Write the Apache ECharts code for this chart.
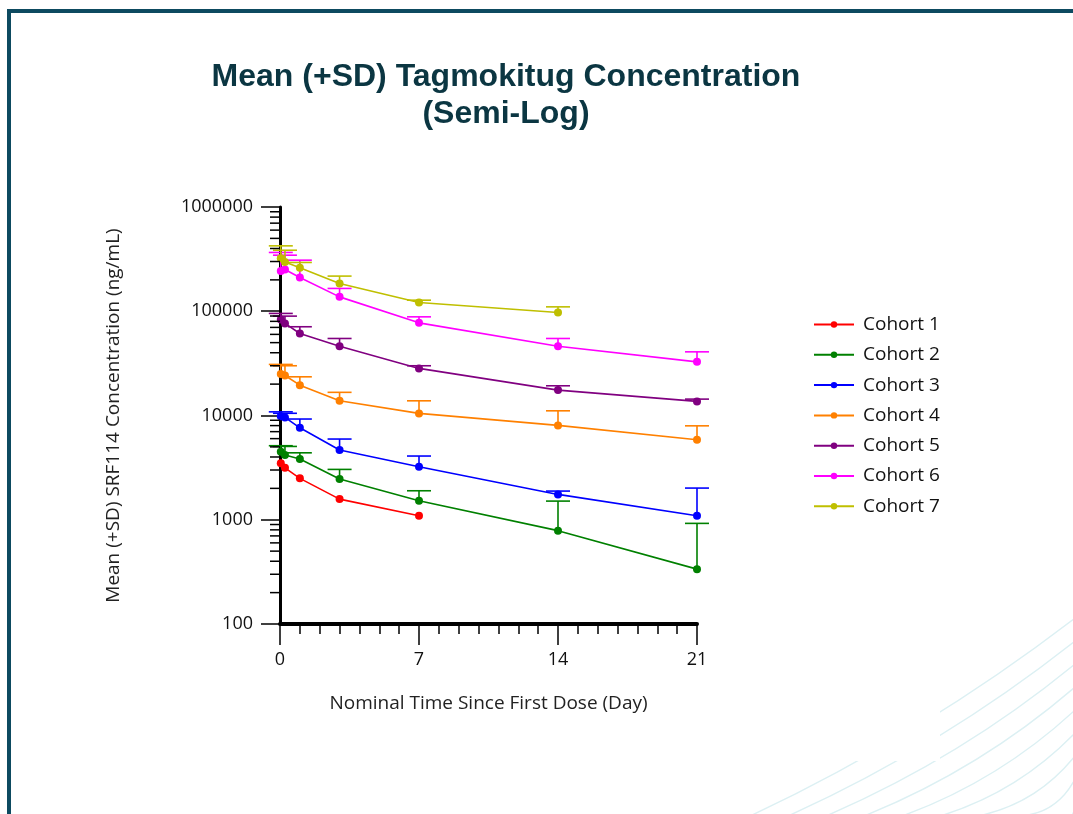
<!DOCTYPE html>
<html><head><meta charset="utf-8">
<script src="https://cdn.jsdelivr.net/npm/echarts@6/dist/echarts.min.js"></script>
<style>html,body{margin:0;padding:0;background:#fff;}#chart{width:1073px;height:814px;}</style>
</head><body><div id="chart"></div>
<script>
// ---- data ----
const cohorts = ['Cohort 1','Cohort 2','Cohort 3','Cohort 4','Cohort 5','Cohort 6','Cohort 7'];
const colors  = ['#ff0000','#008000','#0000ff','#ff8000','#800080','#ff00ff','#bfbf00'];
const times   = [0.04, 0.25, 1, 3, 7, 14, 21];
const xTicks  = [0, 7, 14, 21];
const yTicks  = [100, 1000, 10000, 100000, 1000000];

const mean1 = [3475, 3150, 2495, 1578, 1091, null, null];
const mean2 = [4487, 4170, 3820, 2455, 1520, 786, 336];
const mean3 = [9860, 9590, 7620, 4660, 3222, 1750, 1091];
const mean4 = [24950, 24200, 19540, 13830, 10480, 8040, 5850];
const mean5 = [83400, 76400, 61200, 46200, 28300, 17530, 13650];
const mean6 = [243800, 251600, 210800, 137400, 77400, 46200, 32700];
const mean7 = [323000, 296000, 260700, 184900, 121300, 97300, null];

// mean + SD (top of error bar)
const upper1 = [null, null, null, null, null, null, null];
const upper2 = [5130, 5050, 4385, 3040, 1897, 1510, 923];
const upper3 = [10840, 10500, 9250, 5945, 4085, 1884, 2013];
const upper4 = [30900, 30000, 23500, 16680, 13830, 11090, 7960];
const upper5 = [95300, 89800, 71000, 54800, 30000, 19280, 14360];
const upper6 = [366400, 345000, 309000, 165500, 88400, 54800, 40800];
const upper7 = [424000, 385000, 293800, 217400, 127700, 110200, null];

const means  = [mean1, mean2, mean3, mean4, mean5, mean6, mean7];
const uppers = [upper1, upper2, upper3, upper4, upper5, upper6, upper7];

// minor tick values for the log axis (2..9 x each decade)
const minorTicks = [];
for (let d = 100; d < 1000000; d *= 10) for (let k = 2; k <= 9; k++) minorTicks.push(d * k);

const FONT = 'Open Sans';
const chart = echarts.init(document.getElementById('chart'), null, {renderer: 'canvas'});

const series = [];
cohorts.forEach((name, i) => {
  const pts = [], bars = [];
  times.forEach((t, j) => {
    if (means[i][j] != null) pts.push([t, means[i][j]]);
    if (means[i][j] != null && uppers[i][j] != null) bars.push([t, means[i][j], uppers[i][j]]);
  });
  series.push({
    name: name + ' SD', type: 'custom', data: bars, z: 2, silent: true,
    encode: {x: 0, y: [1, 2]},
    renderItem: (params, api) => {
      const x = api.value(0), m = api.value(1), u = api.value(2);
      const p0 = api.coord([x, m]), p1 = api.coord([x, u]);
      const hw = 12, st = {stroke: colors[i], lineWidth: 1.6};
      return {type: 'group', children: [
        {type: 'line', shape: {x1: p0[0], y1: p0[1], x2: p1[0], y2: p1[1]}, style: st},
        {type: 'line', shape: {x1: p1[0] - hw, y1: p1[1], x2: p1[0] + hw, y2: p1[1]}, style: st}
      ]};
    }
  });
  series.push({
    name: name, type: 'line', data: pts, z: 3,
    symbol: 'circle', symbolSize: 8, showSymbol: true,
    lineStyle: {color: colors[i], width: 1.6},
    itemStyle: {color: colors[i]},
    emphasis: {disabled: true}, animation: false
  });
});

// minor ticks on the log y-axis
series.push({
  name: 'ytick', type: 'custom', data: minorTicks.map(v => [0, v]), silent: true, z: 5,
  encode: {x: 0, y: 1},
  renderItem: (params, api) => {
    const p = api.coord([0, api.value(1)]);
    return {type: 'line', shape: {x1: p[0] - 10, y1: p[1], x2: p[0], y2: p[1]}, style: {stroke: '#000', lineWidth: 1.5}};
  }
});

// decorative faint curves bottom-right
const deco = [];
for (let i = 0; i < 10; i++) {
  const x0 = 750 + i * 38, y1 = 618 + i * 23;
  deco.push({type: 'bezierCurve', silent: true, z: -10,
    shape: {x1: x0, y1: 816, x2: 1075, y2: y1, cpx1: (x0 + 1075) / 2 + 10, cpy1: (816 + y1) / 2 + 18},
    style: {stroke: '#dcf0f3', lineWidth: 1.4, fill: null}});
}
deco.push({type: 'rect', silent: true, z: -9, shape: {x: 700, y: 590, width: 240, height: 171}, style: {fill: '#fff'}});
// frame
deco.push({type: 'rect', silent: true, z: 10, shape: {x: 8, y: 9, width: 1070, height: 4}, style: {fill: '#0d4a60'}});
deco.push({type: 'rect', silent: true, z: 10, shape: {x: 7, y: 9, width: 4, height: 810}, style: {fill: '#0d4a60'}});

chart.setOption({
  animation: false,
  backgroundColor: '#fff',
  title: {
    text: 'Mean (+SD) Tagmokitug Concentration\n(Semi-Log)',
    left: 501, top: 54, textAlign: 'center',
    textStyle: {fontFamily: 'Liberation Sans', fontWeight: 'bold', fontSize: 32, lineHeight: 37, color: '#0b3642'}
  },
  legend: {
    data: cohorts, orient: 'vertical', left: 808, top: 310,
    itemWidth: 40, itemHeight: 8, itemGap: 11.3,
    textStyle: {fontFamily: FONT, fontSize: 19, lineHeight: 17, color: '#111', padding: [0, 0, 0, 4]},
    selectedMode: false
  },
  grid: {left: 280, right: 376, top: 207, bottom: 190, containLabel: false},
  xAxis: {
    type: 'value', min: 0, max: 21, interval: 7,
    name: 'Nominal Time Since First Dose (Day)', nameLocation: 'middle', nameGap: 70,
    nameTextStyle: {fontFamily: FONT, fontSize: 19, color: '#222'},
    axisLine: {show: true, onZero: false, lineStyle: {color: '#000', width: 4}},
    axisTick: {show: true, length: 21, lineStyle: {color: '#000', width: 1.5}},
    minorTick: {show: true, splitNumber: 7, length: 10, lineStyle: {color: '#000', width: 1.5}},
    axisLabel: {fontFamily: FONT, fontSize: 18, color: '#111', margin: 27},
    splitLine: {show: false}
  },
  yAxis: {
    type: 'log', logBase: 10, min: 100, max: 1000000,
    name: 'Mean (+SD) SRF114 Concentration (ng/mL)', nameLocation: 'middle', nameGap: 157,
    nameTextStyle: {fontFamily: FONT, fontSize: 19, color: '#222'},
    axisLine: {show: true, onZero: false, lineStyle: {color: '#000', width: 3}},
    axisTick: {show: true, length: 19, lineStyle: {color: '#000', width: 1.5}},
    axisLabel: {fontFamily: FONT, fontSize: 18, color: '#111', margin: 27, formatter: v => String(Math.round(v))},
    splitLine: {show: false}
  },
  graphic: deco,
  series: series
});
</script></body></html>
